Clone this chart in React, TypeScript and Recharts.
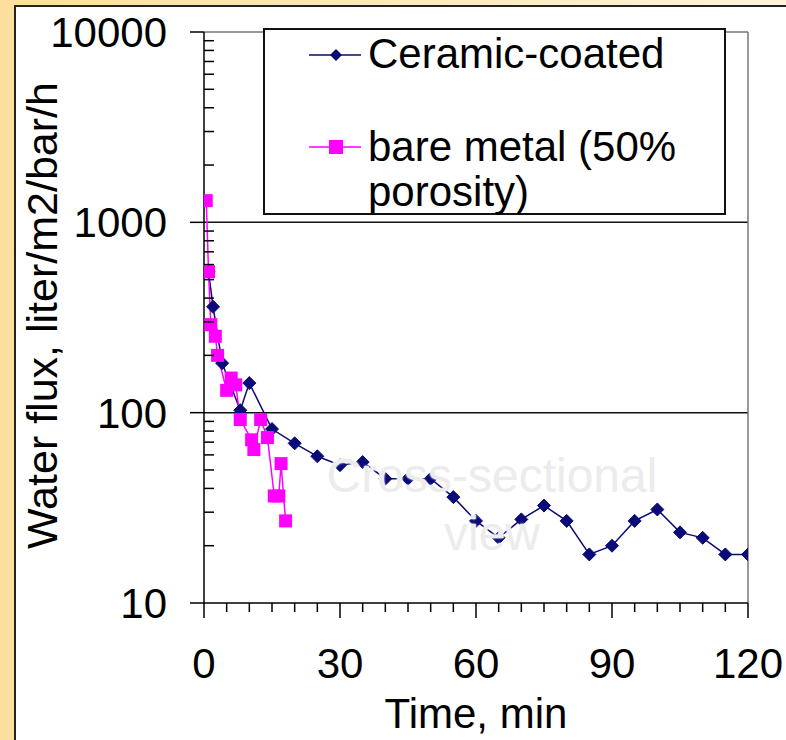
import React from 'react';
import { LineChart, Line, XAxis, YAxis, ReferenceLine, Legend } from 'recharts';

// ---- data ----
const ceramicTime = [1, 2, 4, 8, 10, 15, 20, 25, 30, 35, 40, 45, 50, 55, 60, 65, 70, 75, 80, 85, 90, 95, 100, 105, 110, 115, 120];
const ceramicFlux = [550, 360, 182, 103, 143, 82, 69, 59, 53, 55, 45, 45, 45, 36, 27, 22, 27.5, 32.5, 27, 18, 20, 27, 31, 23.5, 22, 18, 18];

const bareTime = [0.5, 1, 1.5, 2.5, 3, 5, 6, 7, 8, 10.5, 11, 12.5, 14, 15.5, 16.5, 17, 18];
const bareFlux = [1300, 550, 290, 252, 200, 131, 152, 140, 92, 72, 64, 92, 74, 36.5, 36.5, 54, 27];

const xTicks = [0, 5, 10, 15, 20, 25, 30, 35, 40, 45, 50, 55, 60, 65, 70, 75, 80, 85, 90, 95, 100, 105, 110, 115, 120];
const xLabelTicks = [0, 30, 60, 90, 120];
const yMajorTicks = [10, 100, 1000, 10000];
const yMinorFactors = [2, 3, 4, 5, 6, 7, 8, 9];

const seriesNames = ['Ceramic-coated', 'bare metal (50%', 'porosity)'];

const ceramicData = ceramicTime.map((t, i) => ({ time: t, flux: ceramicFlux[i] }));
const bareData = bareTime.map((t, i) => ({ time: t, flux: bareFlux[i] }));
const yTicks: number[] = [];
yMajorTicks.forEach((m, i) => {
  yTicks.push(m);
  if (i < yMajorTicks.length - 1) yMinorFactors.forEach((f) => yTicks.push(m * f));
});

const FONT = '"Liberation Sans", Arial, sans-serif';
const NAVY = '#0a0a78';
const MAGENTA = '#ff00ff';

const DiamondDot = (props: any) => {
  const { cx, cy, index } = props;
  if (cx == null || cy == null) return <g key={`dn${index}`} />;
  const r = 6.5;
  return (
    <path
      key={`d${index}`}
      d={`M${cx},${cy - r}L${cx + r},${cy}L${cx},${cy + r}L${cx - r},${cy}Z`}
      fill={NAVY}
      stroke={NAVY}
      strokeWidth={1}
    />
  );
};

const SquareDot = (props: any) => {
  const { cx, cy, index } = props;
  if (cx == null || cy == null) return <g key={`sn${index}`} />;
  const r = 6.5;
  return <rect key={`s${index}`} x={cx - r} y={cy - r} width={2 * r} height={2 * r} fill={MAGENTA} />;
};

const YTick = (props: any) => {
  const { x, y, payload } = props;
  const v = payload.value;
  if (yMajorTicks.includes(v)) {
    return (
      <g>
        <line x1={x - 14} x2={x} y1={y} y2={y} stroke="#000" strokeWidth={1.5} />
        <text x={x - 37} y={y} dy="0.36em" textAnchor="end" fontSize={42} fontFamily={FONT} fill="#000">
          {v}
        </text>
      </g>
    );
  }
  return <line x1={x} x2={x + 10} y1={y} y2={y} stroke="#000" strokeWidth={1.5} />;
};

const XTick = (props: any) => {
  const { x, y, payload } = props;
  const v = payload.value;
  if (xLabelTicks.includes(v)) {
    return (
      <g>
        <line x1={x} x2={x} y1={y} y2={y + 15} stroke="#000" strokeWidth={1.5} />
        <text x={x} y={y + 75} textAnchor="middle" fontSize={42} fontFamily={FONT} fill="#000">
          {v}
        </text>
      </g>
    );
  }
  return <line x1={x} x2={x} y1={y} y2={y + 9} stroke="#000" strokeWidth={1.5} />;
};

const XTitle = (props: any) => {
  const vb = props.viewBox;
  return (
    <text x={vb.x + vb.width / 2} y={vb.y + 125} textAnchor="middle" fontSize={42} fontFamily={FONT} fill="#000">
      Time, min
    </text>
  );
};

const YTitle = (props: any) => {
  const vb = props.viewBox;
  const cx = vb.x + 57;
  const cy = vb.y + vb.height / 2 - 2;
  return (
    <text
      x={cx}
      y={cy}
      textAnchor="middle"
      fontSize={43}
      fontFamily={FONT}
      fill="#000"
      transform={`rotate(-90, ${cx}, ${cy})`}
    >
      Water flux, liter/m2/bar/h
    </text>
  );
};

const LegendBox = () => (
  <div
    style={{
      position: 'relative',
      width: 463,
      height: 187,
      boxSizing: 'border-box',
      border: '2px solid #111',
      background: '#fff',
      fontFamily: FONT,
      fontSize: 42,
      color: '#000',
    }}
  >
    <svg style={{ position: 'absolute', left: 44, top: 12 }} width={54} height={26}>
      <line x1={0} x2={52} y1={13} y2={13} stroke={NAVY} strokeWidth={1.5} />
      <path d="M27,7L33,13L27,19L21,13Z" fill={NAVY} />
    </svg>
    <div style={{ position: 'absolute', left: 103, top: 1, lineHeight: '46px', whiteSpace: 'nowrap' }}>{seriesNames[0]}</div>
    <svg style={{ position: 'absolute', left: 44, top: 104 }} width={54} height={26}>
      <line x1={0} x2={52} y1={13} y2={13} stroke={MAGENTA} strokeWidth={1.5} />
      <rect x={20} y={6} width={14} height={14} fill={MAGENTA} />
    </svg>
    <div style={{ position: 'absolute', left: 103, top: 94, lineHeight: '45px', whiteSpace: 'nowrap' }}>
      {seriesNames[1]}
      <br />
      {seriesNames[2]}
    </div>
  </div>
);

export default function App() {
  return (
    <div
      style={{
        position: 'absolute',
        left: 0,
        top: 0,
        width: 786,
        height: 740,
        overflow: 'hidden',
        background: 'linear-gradient(90deg, #fcdf9c 0%, #fde9b5 45%, #fff4da 100%)',
      }}
    >
      <div
        style={{
          position: 'absolute',
          left: 14,
          top: 5,
          width: 800,
          height: 760,
          background: '#fff',
          borderLeft: '2px solid #222',
          borderTop: '2px solid #222',
        }}
      />
      <div style={{ position: 'absolute', left: 0, top: 0 }}>
        <LineChart width={786} height={740} margin={{ top: 32, right: 38, bottom: 77, left: 0 }}>
          <XAxis
            dataKey="time"
            type="number"
            domain={[0, 120]}
            ticks={xTicks}
            interval={0}
            tickSize={0}
            tickMargin={0}
            tickLine={false}
            tick={<XTick />}
            axisLine={{ stroke: '#000', strokeWidth: 1.5 }}
            height={60}
            allowDataOverflow
            label={XTitle}
          />
          <YAxis
            type="number"
            scale="log"
            domain={[10, 10000]}
            ticks={yTicks}
            interval={0}
            tickSize={0}
            tickMargin={0}
            tickLine={false}
            tick={<YTick />}
            axisLine={{ stroke: '#000', strokeWidth: 1.5 }}
            width={204}
            allowDataOverflow
            label={YTitle}
          />
          <ReferenceLine y={1000} stroke="#111" strokeWidth={1.5} />
          <ReferenceLine y={100} stroke="#111" strokeWidth={1.5} />
          <ReferenceLine y={10000} stroke="#777" strokeWidth={1.5} />
          <ReferenceLine x={120} stroke="#777" strokeWidth={1.5} />
          <Legend
            layout="vertical"
            align="center"
            verticalAlign="middle"
            content={() => <LegendBox />}
            wrapperStyle={{ left: 263, top: 28, width: 463, height: 187 }}
          />
          <Line
            data={ceramicData}
            dataKey="flux"
            name="Ceramic-coated"
            stroke={NAVY}
            strokeWidth={1.5}
            dot={DiamondDot}
            activeDot={false}
            isAnimationActive={false}
          />
          <Line
            data={bareData}
            dataKey="flux"
            name="bare metal (50% porosity)"
            stroke={MAGENTA}
            strokeWidth={1.5}
            dot={SquareDot}
            activeDot={false}
            isAnimationActive={false}
          />
        </LineChart>
      </div>
      <div
        style={{
          position: 'absolute',
          left: 292,
          top: 447,
          width: 400,
          textAlign: 'center',
          fontFamily: FONT,
          fontSize: 48,
          lineHeight: '58px',
          color: '#ececec',
          textShadow: '0 0 2px #fff, 0 0 2px #fff',
          pointerEvents: 'none',
        }}
      >
        Cross-sectional
        <br />
        view
      </div>
    </div>
  );
}
